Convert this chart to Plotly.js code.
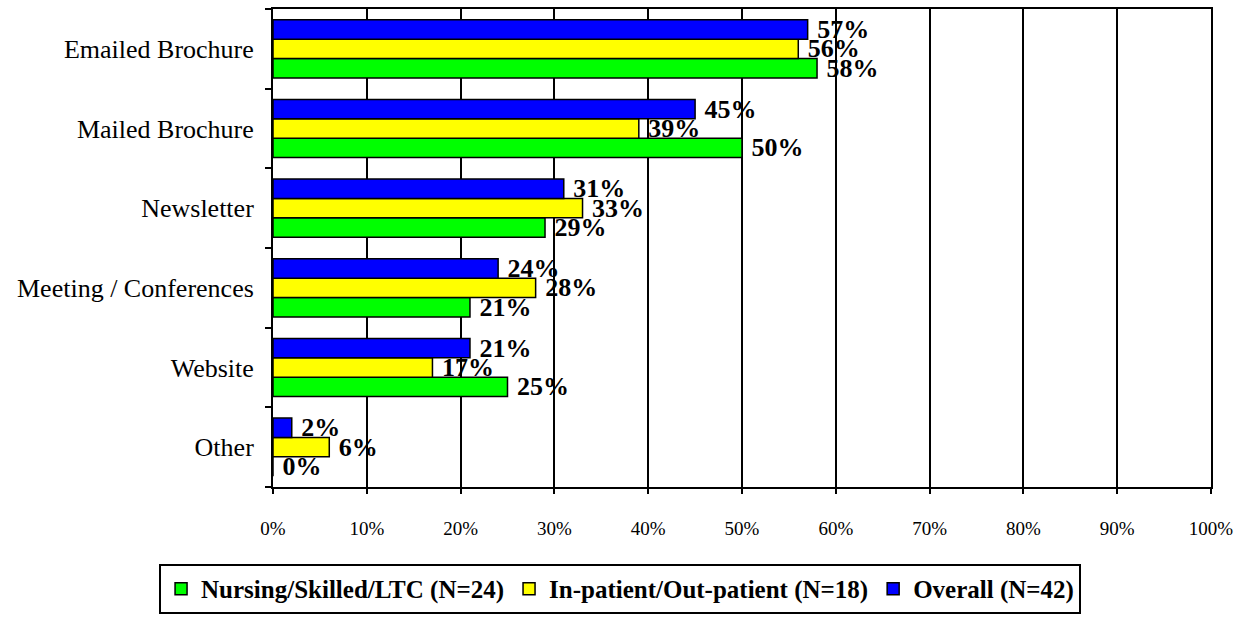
<!DOCTYPE html>
<html>
<head>
<meta charset="utf-8">
<script src="https://cdn.plot.ly/plotly-3.0.1.min.js"></script>
<style>html,body{margin:0;padding:0;background:#fff;}#chart{width:1244px;height:623px;}</style>
</head>
<body>
<div id="chart"></div>
<script>
const categories = ["Emailed Brochure", "Mailed Brochure", "Newsletter", "Meeting / Conferences", "Website", "Other"];
const nursing = [58, 50, 29, 21, 25, 0];
const inpatient = [56, 39, 33, 28, 17, 6];
const overall = [57, 45, 31, 24, 21, 2];
const seriesNames = ["Nursing/Skilled/LTC (N=24)", "In-patient/Out-patient (N=18)", "Overall (N=42)"];
const seriesColors = ["#00ff00", "#ffff00", "#0000ff"];
const xTickVals = [0,10,20,30,40,50,60,70,80,90,100];

const font = "Liberation Serif, Times New Roman, serif";
const seriesData = [nursing, inpatient, overall];
const traces = seriesData.map((vals, i) => ({
  type: "bar",
  orientation: "h",
  name: "<b>" + seriesNames[i] + "</b>",
  y: categories,
  x: vals,
  marker: {color: seriesColors[i], line: {color: "#000", width: 1.5}},
  text: vals.map(v => "\u00a0" + v + "%"),
  textposition: "outside",
  constraintext: "none",
  cliponaxis: false,
  textfont: {family: font, size: 26, color: "#000", weight: "bold"},
  hoverinfo: "x+y"
}));

const layout = {
  width: 1244, height: 623,
  margin: {l: 273, r: 33, t: 9, b: 124},
  paper_bgcolor: "#fff", plot_bgcolor: "#fff",
  barmode: "group",
  bargap: 0.27,
  bargroupgap: 0,
  showlegend: true,
  legend: {
    orientation: "h",
    x: 0.37, xanchor: "center",
    y: -0.161, yanchor: "top",
    bordercolor: "#000", borderwidth: 2,
    font: {family: font, size: 25, color: "#000"},
    traceorder: "normal",
    itemwidth: 30
  },
  xaxis: {
    range: [0, 100],
    tickvals: xTickVals,
    ticktext: xTickVals.map(v => v + "%"),
    showgrid: true, gridcolor: "#000", gridwidth: 2,
    zeroline: false,
    showline: true, linecolor: "#000", linewidth: 2, mirror: true,
    ticks: "outside", ticklen: 5, tickwidth: 2, tickcolor: "#000",
    ticklabelstandoff: 18,
    tickfont: {family: font, size: 19, color: "#000"},
    fixedrange: true
  },
  yaxis: {
    type: "category",
    categoryorder: "array",
    categoryarray: categories.slice().reverse(),
    showgrid: false,
    zeroline: false,
    showline: true, linecolor: "#000", linewidth: 2, mirror: true,
    ticks: "outside", ticklen: 6, tickwidth: 2, tickcolor: "#000",
    tickson: "boundaries",
    ticklabelstandoff: 12,
    tickfont: {family: font, size: 26, color: "#000"},
    fixedrange: true
  }
};

Plotly.newPlot("chart", traces, layout, {displayModeBar: false, staticPlot: true});
</script>
</body>
</html>
